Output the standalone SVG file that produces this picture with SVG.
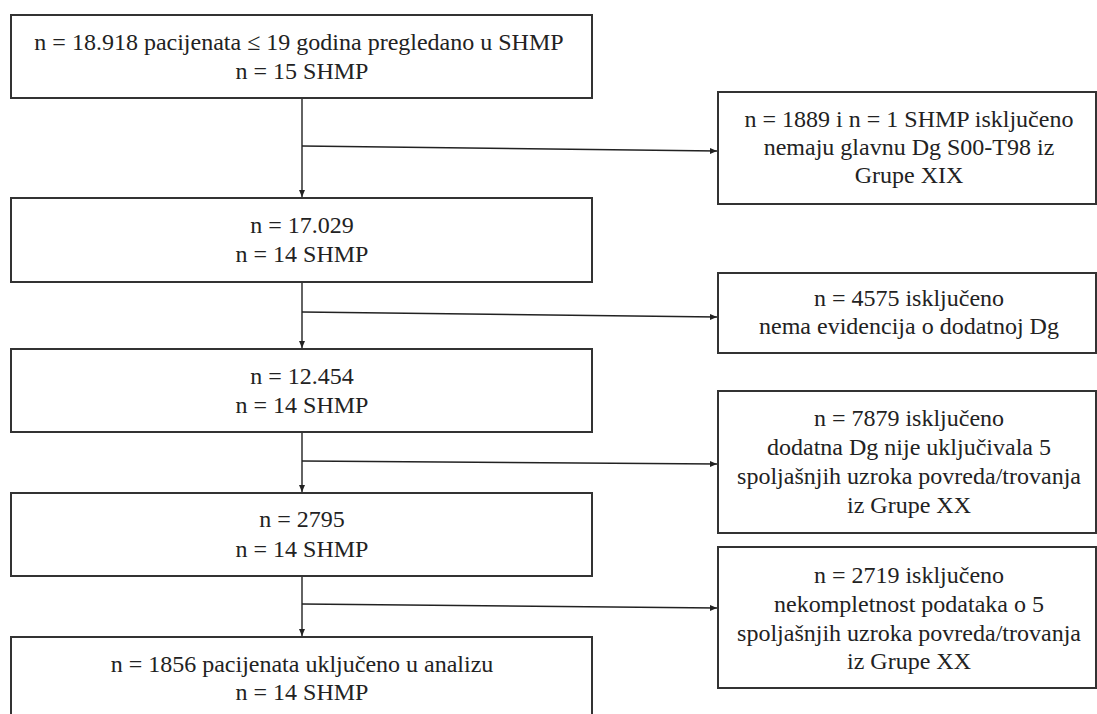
<svg xmlns="http://www.w3.org/2000/svg" width="1097" height="714" viewBox="0 0 1097 714">
<defs>
<marker id="ah" markerWidth="8" markerHeight="8" refX="7" refY="4" orient="auto" markerUnits="userSpaceOnUse">
<path d="M0,1 L7,4 L0,7 Z" fill="#222"/>
</marker>
<style>
.box{fill:#fff;stroke:#333;stroke-width:2}
.t{font-size:24px;fill:#222;text-anchor:middle}
.c{fill:none;stroke:#222;stroke-width:1.4}
</style>
</defs>
<rect width="1097" height="714" fill="#fff"/>
<g id="connectors">
<line class="c" x1="302" y1="98" x2="302" y2="197" marker-end="url(#ah)"/>
<line class="c" x1="302" y1="146" x2="717" y2="151" marker-end="url(#ah)"/>
<line class="c" x1="302" y1="282" x2="302" y2="348" marker-end="url(#ah)"/>
<line class="c" x1="302" y1="312" x2="717" y2="317" marker-end="url(#ah)"/>
<line class="c" x1="302" y1="432" x2="302" y2="492" marker-end="url(#ah)"/>
<line class="c" x1="302" y1="461" x2="717" y2="464" marker-end="url(#ah)"/>
<line class="c" x1="302" y1="576" x2="302" y2="636" marker-end="url(#ah)"/>
<line class="c" x1="302" y1="604" x2="717" y2="608" marker-end="url(#ah)"/>
</g>
<g font-family="Liberation Serif, DejaVu Serif, serif">
<g id="n1">
<rect class="box" x="11" y="15" width="581" height="83"/>
<text class="t" x="299" y="50">n = 18.918 pacijenata ≤ 19 godina pregledano u SHMP</text>
<text class="t" x="302" y="79">n = 15 SHMP</text>
</g>
<g id="n2">
<rect class="box" x="11" y="198" width="581" height="84"/>
<text class="t" x="302" y="233">n = 17.029</text>
<text class="t" x="302" y="262">n = 14 SHMP</text>
</g>
<g id="n3">
<rect class="box" x="11" y="349" width="581" height="83"/>
<text class="t" x="302" y="384">n = 12.454</text>
<text class="t" x="302" y="413">n = 14 SHMP</text>
</g>
<g id="n4">
<rect class="box" x="11" y="493" width="581" height="83"/>
<text class="t" x="302" y="527">n = 2795</text>
<text class="t" x="302" y="557">n = 14 SHMP</text>
</g>
<g id="n5">
<rect class="box" x="11" y="637" width="581" height="90"/>
<text class="t" x="302" y="672">n = 1856 pacijenata uključeno u analizu</text>
<text class="t" x="302" y="700">n = 14 SHMP</text>
</g>
<g id="r1">
<rect class="box" x="718" y="92" width="378" height="112"/>
<text class="t" x="909" y="127">n = 1889 i n = 1 SHMP isključeno</text>
<text class="t" x="909" y="155">nemaju glavnu Dg S00-T98 iz</text>
<text class="t" x="909" y="183">Grupe XIX</text>
</g>
<g id="r2">
<rect class="box" x="718" y="273" width="378" height="80"/>
<text class="t" x="909" y="306">n = 4575 isključeno</text>
<text class="t" x="909" y="334">nema evidencija o dodatnoj Dg</text>
</g>
<g id="r3">
<rect class="box" x="718" y="391" width="378" height="142"/>
<text class="t" x="909" y="426">n = 7879 isključeno</text>
<text class="t" x="909" y="455">dodatna Dg nije uključivala 5</text>
<text class="t" x="909" y="484">spoljašnjih uzroka povreda/trovanja</text>
<text class="t" x="909" y="513">iz Grupe XX</text>
</g>
<g id="r4">
<rect class="box" x="718" y="547" width="378" height="141"/>
<text class="t" x="909" y="583">n = 2719 isključeno</text>
<text class="t" x="909" y="612">nekompletnost podataka o 5</text>
<text class="t" x="909" y="641">spoljašnjih uzroka povreda/trovanja</text>
<text class="t" x="909" y="669">iz Grupe XX</text>
</g>
</g>
</svg>
